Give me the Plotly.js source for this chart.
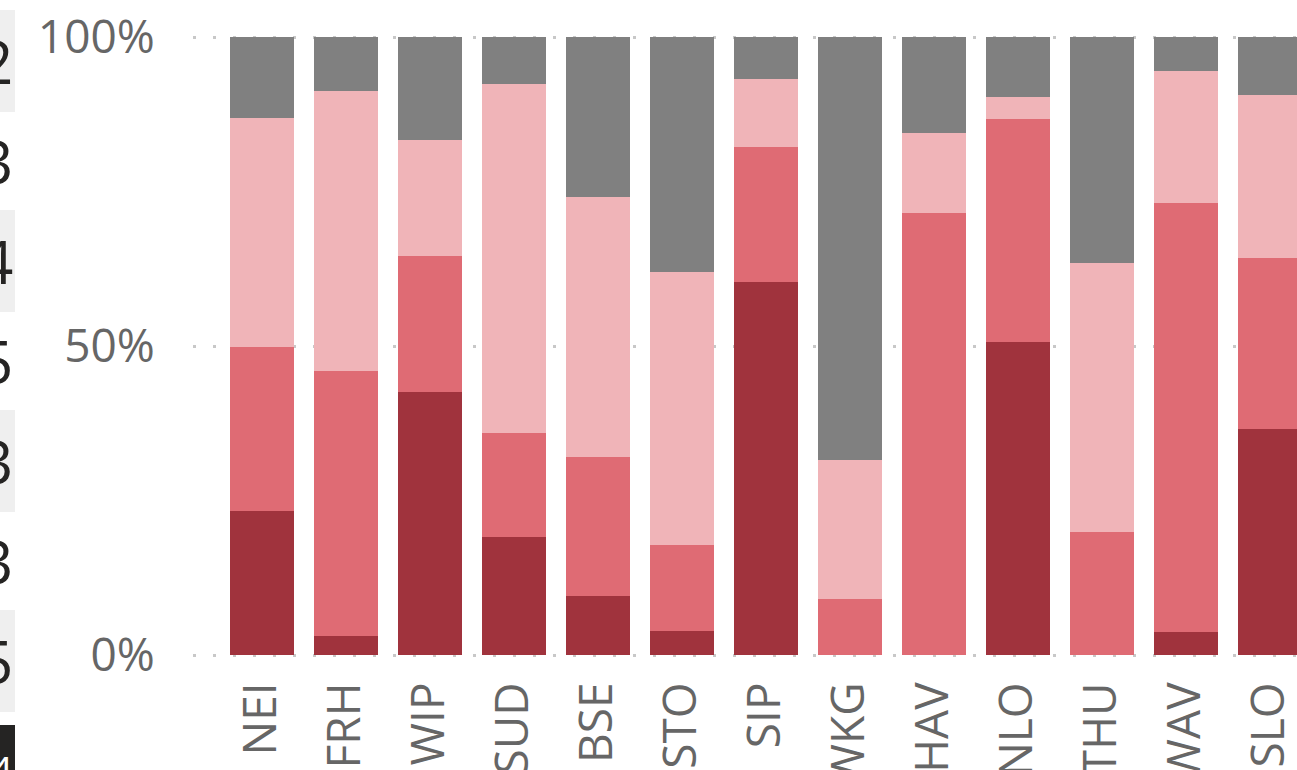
<!DOCTYPE html>
<html>
<head>
<meta charset="utf-8">
<script src="https://cdn.plot.ly/plotly-3.0.1.min.js"></script>
<style>html,body{margin:0;padding:0;background:#fff;overflow:hidden}#chart{width:1297px;height:770px}</style>
</head>
<body>
<div id="chart"></div>
<script>
const categories = ["NEI","FRH","WIP","SUD","BSE","STO","SIP","WKG","HAV","NLO","THU","WAV","SLO"];
const series1 = [23.3, 3.1, 42.6, 19.1, 9.6, 3.9, 60.3, 0, 0, 50.6, 0, 3.7, 36.5];
const series2 = [26.6, 42.9, 21.9, 16.9, 22.5, 13.9, 21.9, 9.1, 71.6, 36.1, 19.9, 69.4, 27.7];
const series3 = [37.0, 45.2, 18.8, 56.4, 42.0, 44.1, 11.0, 22.5, 12.8, 3.6, 43.6, 21.4, 26.4];
const series4 = [13.1, 8.8, 16.7, 7.6, 25.9, 38.1, 6.8, 68.4, 15.6, 9.7, 36.5, 5.5, 9.4];
const seriesNames = ["Series 1","Series 2","Series 3","Series 4"];
const yTickVals = [0, 50, 100];
const yTickText = ["0%", "50%", "100%"];
const sideLabels = ["2","3","4","5","3","3","5"];
const sideBoxLabel = "4";

const colors = ["#A0333D", "#DF6B74", "#F0B4B8", "#808080"];
const allSeries = [series1, series2, series3, series4];

const traces = allSeries.map((vals, i) => ({
  type: "bar",
  name: seriesNames[i],
  x: categories,
  y: vals,
  marker: {color: colors[i]},
  hoverinfo: "x+y+name"
}));

// layout geometry (pixels)
const L = 193, R = 0, T = 35, B = 113, W = 1297, H = 770;
const pw = W - L - R, ph = H - T - B;
const pad = 2 / 6.18; // 2px of headroom so the 0% and 100% grid lines are drawn
const px = x => (x - L) / pw;
const py = y => (H - B - y) / ph;

const shapes = [];
[[10,112],[210,312],[410,512],[610,712]].forEach(([a,b]) => {
  shapes.push({type:"rect", xref:"paper", yref:"paper", x0:px(0), x1:px(15), y0:py(b), y1:py(a),
    fillcolor:"#EFEFEF", line:{width:0}, layer:"below"});
});
shapes.push({type:"rect", xref:"paper", yref:"paper", x0:px(0), x1:px(15), y0:py(775), y1:py(725),
  fillcolor:"#252423", line:{width:0}, layer:"below"});

const annotations = sideLabels.map((t, i) => ({
  text: t, xref:"paper", yref:"paper", x: px(15), y: py(61 + i*100),
  xanchor:"right", yanchor:"middle", showarrow:false,
  font:{family:"Open Sans, sans-serif", size:60, color:"#252423"}
}));
annotations.push({text: sideBoxLabel, xref:"paper", yref:"paper", x: px(15), y: py(770),
  xanchor:"right", yanchor:"middle", showarrow:false,
  font:{family:"Open Sans, sans-serif", size:40, color:"#FFFFFF"}});

const layout = {
  width: W, height: H,
  margin: {l: L, r: R, t: T, b: B, pad: 0},
  barmode: "stack",
  bargap: 0.238,
  showlegend: false,
  paper_bgcolor: "#FFFFFF",
  plot_bgcolor: "#FFFFFF",
  font: {family: "Open Sans, sans-serif", color: "#666666", size: 46},
  xaxis: {
    type: "category",
    range: [-0.8155, 12.327],
    tickangle: -90,
    ticks: "outside", ticklen: 6, tickcolor: "rgba(0,0,0,0)",
    showgrid: false, zeroline: false, showline: false,
    automargin: false,
    tickfont: {family: "Open Sans, sans-serif", size: 46, color: "#666666"}
  },
  yaxis: {
    range: [-pad, 100 + pad],
    tickvals: yTickVals, ticktext: yTickText,
    ticks: "outside", ticklen: 28, tickcolor: "rgba(0,0,0,0)",
    showgrid: true, gridcolor: "#C8C8C8", gridwidth: 3, griddash: "3px,17px",
    zeroline: false, showline: false,
    automargin: false,
    tickfont: {family: "Open Sans, sans-serif", size: 46, color: "#666666"}
  },
  shapes: shapes,
  annotations: annotations
};

Plotly.newPlot("chart", traces, layout, {displayModeBar: false, staticPlot: true});
</script>
</body>
</html>
